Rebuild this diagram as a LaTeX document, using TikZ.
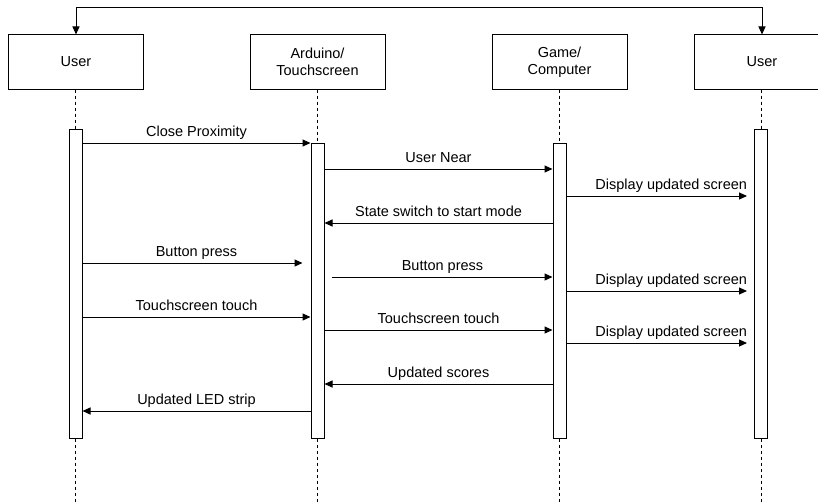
\documentclass[tikz,border=0pt]{standalone}
\usepackage{fontspec}
\setmainfont{Liberation Sans}
\usetikzlibrary{arrows.meta}

\begin{document}
\begin{tikzpicture}[x=1pt, y=-1pt,
  actor/.style={draw, line width=1pt, minimum width=135pt, minimum height=54pt,
    inner sep=0pt, align=center, font=\fontsize{14.5}{17}\selectfont},
  bar/.style={draw, line width=1pt, fill=white, minimum width=13pt, inner sep=0pt},
  life/.style={line width=0.8pt, dash pattern=on 3pt off 3pt},
  msg/.style={line width=1pt, -{Triangle[length=8pt, width=7pt]}},
  lbl/.style={anchor=base, yshift=6.5pt, inner sep=0pt, font=\fontsize{14.5}{17}\selectfont}]

  \useasboundingbox (0,0) rectangle (818,503);

  % participant boxes
  \node[actor] (u1) at (76,62) {User};
  \node[actor] (ar) at (317.5,62) {Arduino/\\Touchscreen};
  \node[actor] (gc) at (559.5,62) {Game/\\Computer};
  \node[actor] (u2) at (762,62) {User};

  % activation bars
  \node[bar, minimum height=309pt] (b1) at (75.5,283.5) {};
  \node[bar, minimum height=295pt] (b2) at (317.5,290.5) {};
  \node[bar, minimum height=295pt] (b3) at (559.5,290.5) {};
  \node[bar, minimum height=309pt] (b4) at (761,283.5) {};

  % lifeline ends
  \coordinate (e1) at (75.5,503);
  \coordinate (e2) at (317.5,503);
  \coordinate (e3) at (559.5,503);
  \coordinate (e4) at (761,503);

  % dashed lifelines
  \draw[life] (u1.south -| b1) -- (b1.north);
  \draw[life] (ar.south) -- (b2.north);
  \draw[life] (gc.south) -- (b3.north);
  \draw[life] (u2.south -| b4) -- (b4.north);
  \draw[life] (b1.south) -- (e1);
  \draw[life] (b2.south) -- (e2);
  \draw[life] (b3.south) -- (e3);
  \draw[life] (b4.south) -- (e4);

  % loop back between the two users
  \draw[line width=1pt, {Triangle[length=8pt, width=7pt]}-{Triangle[length=8pt, width=7pt]}]
    (u1.north) -- (u1.north |- 0,8) -| (u2.north);

  % messages
  \draw[msg] (b1.east |- 0,143) -- node[lbl] {Close Proximity} (b2.west |- 0,143);
  \draw[msg] (b2.east |- 0,169) -- node[lbl] {User Near} (b3.west |- 0,169);
  \draw[msg, shorten >=7pt] (b3.east |- 0,196) -- node[lbl, xshift=11pt] {Display updated screen} (b4.west |- 0,196);
  \draw[msg] (b3.west |- 0,223) -- node[lbl] {State switch to start mode} (b2.east |- 0,223);
  \draw[msg, shorten >=8pt] (b1.east |- 0,263) -- node[lbl] {Button press} (b2.west |- 0,263);
  \draw[msg, shorten <=7pt] (b2.east |- 0,277) -- node[lbl, xshift=4pt] {Button press} (b3.west |- 0,277);
  \draw[msg, shorten >=7pt] (b3.east |- 0,291) -- node[lbl, xshift=11pt] {Display updated screen} (b4.west |- 0,291);
  \draw[msg] (b1.east |- 0,317) -- node[lbl] {Touchscreen touch} (b2.west |- 0,317);
  \draw[msg] (b2.east |- 0,330) -- node[lbl] {Touchscreen touch} (b3.west |- 0,330);
  \draw[msg, shorten >=7pt] (b3.east |- 0,343) -- node[lbl, xshift=11pt] {Display updated screen} (b4.west |- 0,343);
  \draw[msg] (b3.west |- 0,384) -- node[lbl] {Updated scores} (b2.east |- 0,384);
  \draw[msg] (b2.west |- 0,411) -- node[lbl] {Updated LED strip} (b1.east |- 0,411);
\end{tikzpicture}
\end{document}
